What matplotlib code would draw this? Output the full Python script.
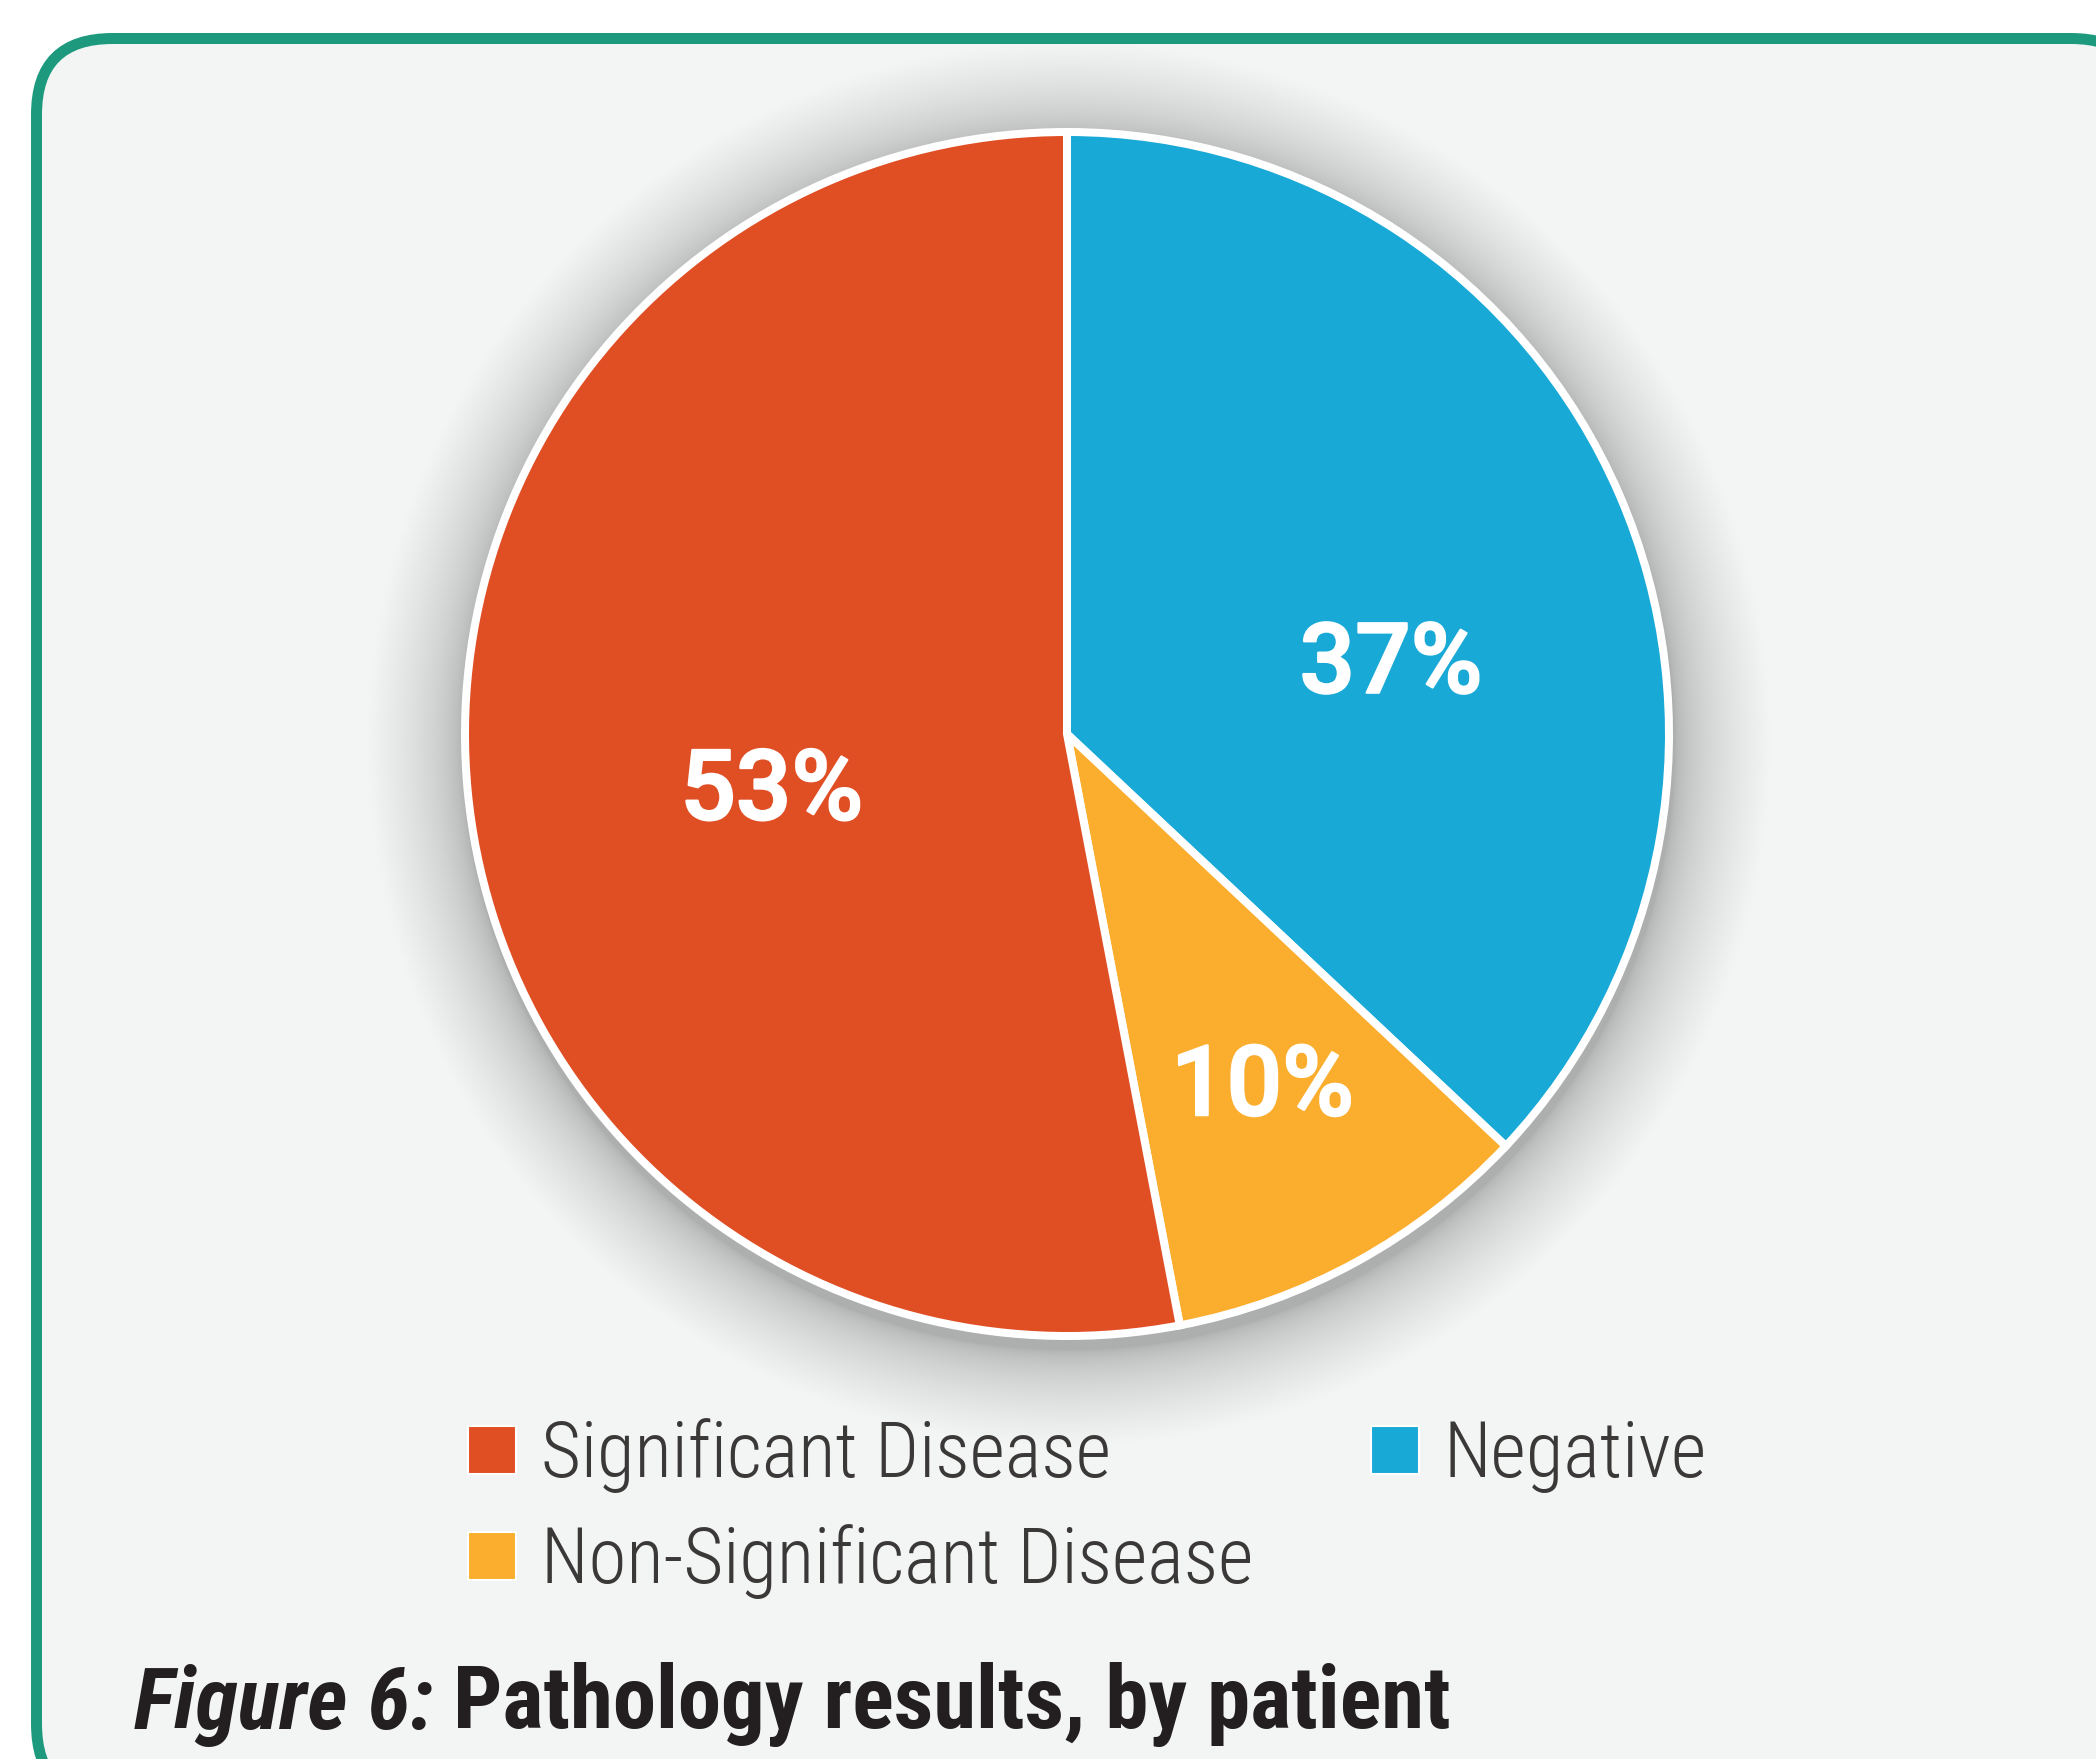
import os
import numpy as np
import matplotlib
matplotlib.use("Agg")
import matplotlib.pyplot as plt
import matplotlib.patheffects as pe
from matplotlib import font_manager as fm
from matplotlib.patches import FancyBboxPatch, Circle, Rectangle
from matplotlib.textpath import TextPath

# ---------------- data ----------------
categories = ["Negative", "Non-Significant Disease", "Significant Disease"]
values = [37, 10, 53]
slice_colors = ["#19A9D6", "#FBAD2E", "#E04E24"]
legend_order = ["Significant Disease", "Non-Significant Disease", "Negative"]
caption_prefix = "Figure 6:"
caption_text = "Pathology results, by patient"

# ---------------- fonts ----------------
OK_WORDS = {"condensed", "semicondensed", "extracondensed", "narrow", "light", "thin",
            "medium", "semibold", "bold", "black", "extralight", "extrabold", "regular"}


def _wnum(e):
    w = e.weight
    if isinstance(w, str):
        w = fm.weight_dict.get(w, 400)
    return int(w)


def _iscond(e):
    s = (os.path.basename(e.fname) + " " + e.name + " " + str(e.stretch)).lower()
    return ("condensed" in s) or ("narrow" in s)


def find_font(families, weight, italic=False, condensed=True):
    ents = fm.fontManager.ttflist
    for cond in ([True, False] if condensed else [False]):
        for fam in families:
            cands = []
            for e in ents:
                nm = e.name.lower()
                if not nm.startswith(fam.lower()):
                    continue
                rest = nm[len(fam):].split()
                if any(w not in OK_WORDS for w in rest):
                    continue
                if _iscond(e) != cond:
                    continue
                if (e.style in ("italic", "oblique")) != italic:
                    continue
                if "semicondensed" in os.path.basename(e.fname).lower():
                    continue
                cands.append(e)
            if cands:
                best = min(cands, key=lambda e: abs(_wnum(e) - weight))
                return fm.FontProperties(fname=best.fname)
    return fm.FontProperties(family="DejaVu Sans", weight=weight,
                             style="italic" if italic else "normal")


fams = ["Roboto", "Open Sans", "Noto Sans", "DejaVu Sans", "Lato", "Inter",
        "Liberation Sans Narrow", "Liberation Sans"]
fp_leg = find_font(fams, 300, condensed=True)
fp_lab = find_font(["Roboto", "Open Sans", "Noto Sans", "Lato", "DejaVu Sans"], 560, condensed=False)
fp_cap = find_font(fams, 700, condensed=True)
fp_cap_it = find_font(fams, 700, italic=True, condensed=True)

PX = 100 / 72.0  # pixels per point at dpi 100


def ink(text, fp):
    p = fp.copy()
    p.set_size(100)
    ext = TextPath((0, 0), text, prop=p).get_extents()
    return ext.width / 100.0, ext.height / 100.0


def size_for(text, fp, w_px, h_px, htext=None, wweight=0.5):
    w, _ = ink(text, fp)
    _, h = ink(htext if htext else text, fp)
    sw = w_px / w / PX
    sh = h_px / h / PX
    return float(sw ** wweight * sh ** (1 - wweight))


lab_size = size_for("53%", fp_lab, 179, 69)
leg_size = size_for("Significant Disease", fp_leg, 572, 54, htext="D")
w1, _ = ink(caption_prefix + " ", fp_cap_it)
w2, _ = ink(caption_text, fp_cap)
_, hc = ink("P", fp_cap)
cap_w = 1321 / (w1 + w2) / PX
cap_h = 56 / hc / PX
cap_size = float(cap_w ** 0.8 * cap_h ** 0.2)

fp_lab.set_size(lab_size)
fp_leg.set_size(leg_size)
fp_cap.set_size(cap_size)
fp_cap_it.set_size(cap_size)

# ---------------- figure ----------------
W, H = 2096, 1759
fig = plt.figure(figsize=(W / 100, H / 100), dpi=100)
fig.patch.set_facecolor("white")
ax = fig.add_axes([0, 0, 1, 1])

# card frame
frame = FancyBboxPatch((36.5, H - 1800), 2147 - 36.5, (H - 38.5) - (H - 1800),
                       boxstyle="round,pad=0,rounding_size=76",
                       facecolor="#F2F5F4", edgecolor="#1D9A7E",
                       linewidth=11 / PX, zorder=0)
ax.add_patch(frame)

cx, cy = 1067, H - 734
R = 602

# soft shadow (stack of faint discs, denser near the rim)
n_sh = 70
for k in range(n_sh):
    rr = R + 4 + 95 * ((k + 1) / n_sh) ** 1.8
    ax.add_patch(Circle((cx + 2, cy - 10), rr, facecolor="#4a5252",
                        edgecolor="none", alpha=0.0028, zorder=1))

wedges, texts, autotexts = ax.pie(
    values, colors=slice_colors, startangle=90, counterclock=False,
    center=(cx, cy), radius=R, autopct="%.0f%%",
    wedgeprops=dict(edgecolor="white", linewidth=8 / PX, zorder=2),
    textprops=dict(color="white", fontproperties=fp_lab))

# label placement (angle in degrees, fraction of radius)
label_place = [(11.9, 0.55), (-61.1, 0.672), (191.2, 0.50)]
for t, (ang, fr) in zip(autotexts, label_place):
    a = np.deg2rad(ang)
    t.set_position((cx + fr * R * np.cos(a), cy + fr * R * np.sin(a)))
    t.set_ha("center")
    t.set_va("center")
    t.set_zorder(5)
    t.set_fontproperties(fp_lab)
    t.set_path_effects([pe.withStroke(linewidth=1.6, foreground="white")])

ax.set_xlim(0, W)
ax.set_ylim(0, H)
ax.set_aspect("auto")
ax.axis("off")

# ---------------- legend ----------------
color_of = dict(zip(categories, slice_colors))
handles = [Rectangle((0, 0), 1, 1, facecolor=color_of[c], edgecolor="white", linewidth=1.5)
           for c in legend_order]
fs_px = leg_size * PX
params = dict(hl=48 / fs_px, hh=0.7, cs=1.4, ls=0.3, x0=468 / W, y0=(H - 1426) / H)


def make_legend(p):
    return ax.legend(handles, legend_order, loc="upper left",
                     bbox_to_anchor=(p["x0"], p["y0"]), bbox_transform=fig.transFigure,
                     ncol=2, frameon=False, prop=fp_leg, handlelength=p["hl"],
                     handleheight=p["hh"], handletextpad=25 / fs_px,
                     columnspacing=p["cs"], labelspacing=p["ls"],
                     borderpad=0, borderaxespad=0, labelcolor="#3B3838")


for it in range(4):
    leg = make_legend(params)
    fig.canvas.draw()
    r = fig.canvas.get_renderer()
    bb = [h.get_window_extent(r) for h in leg.legend_handles]
    params["hh"] *= 48.0 / max(bb[0].height, 1)
    params["hl"] *= 48.0 / max(bb[0].width, 1)
    params["x0"] += (468 - bb[0].x0) / W
    params["y0"] += ((H - 1426) - bb[0].y1) / H
    params["cs"] += (1371 - bb[2].x0) / fs_px
    params["ls"] += (106 - (bb[0].y1 - bb[1].y1)) / fs_px
leg = make_legend(params)

# ---------------- caption ----------------
t1 = ax.text(134, H - 1729, caption_prefix, fontproperties=fp_cap_it,
             color="#231F20", ha="left", va="baseline", zorder=6)
ax.annotate(caption_text, xy=(1, 0), xycoords=t1, xytext=(0.22 * cap_size * PX, 0),
            textcoords="offset pixels", fontproperties=fp_cap, color="#231F20",
            ha="left", va="bottom", zorder=6)

fig.savefig("out.png", dpi=100, facecolor="white")
